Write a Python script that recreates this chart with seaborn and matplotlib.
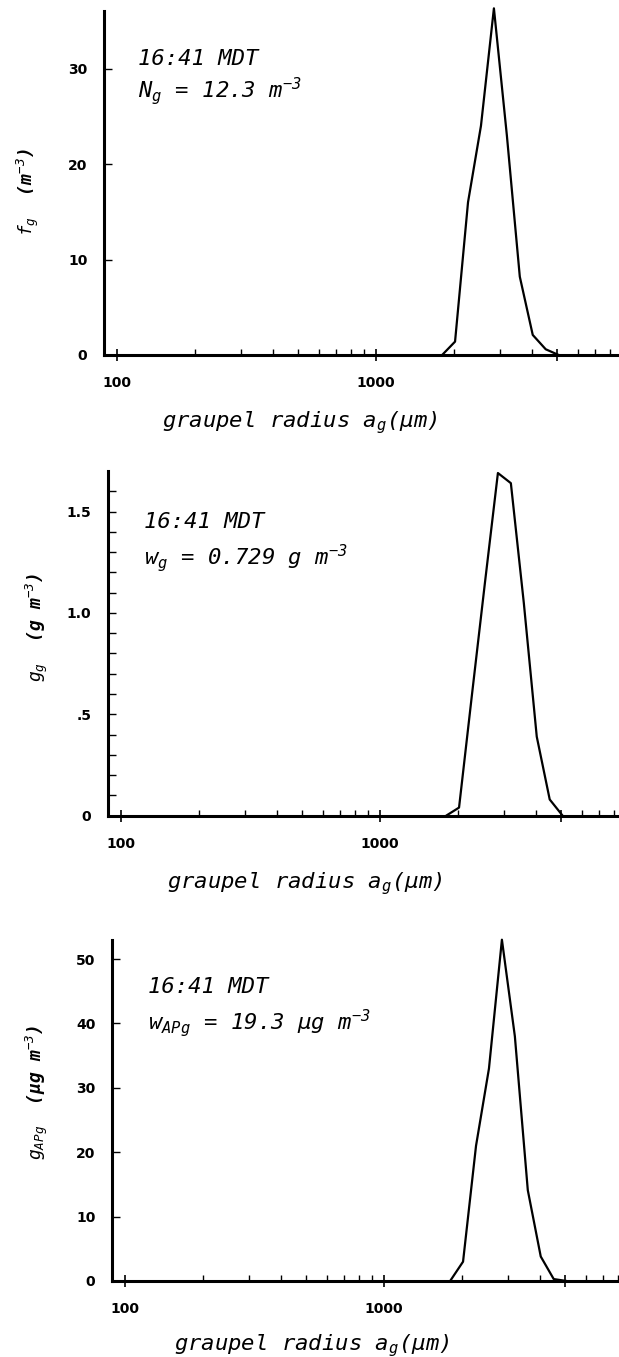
import matplotlib
matplotlib.use('Agg')
import numpy as np
import pandas as pd
import seaborn as sns
import matplotlib.pyplot as plt
from matplotlib.ticker import FixedLocator, NullFormatter, FixedFormatter

# graupel size bins (um) and the three spectra
radius = [1799, 2018, 2265, 2541, 2851, 3199, 3589, 4027, 4519, 5070]
f_g = [0, 1.4, 16.0, 24.0, 36.3, 23.0, 8.2, 2.1, 0.6, 0]
g_g = [0, 0.04, 0.60, 1.15, 1.69, 1.64, 1.05, 0.39, 0.08, 0]
g_apg = [0, 3.0, 21.0, 33.0, 53.0, 38.0, 14.1, 3.8, 0.3, 0]

time_label = '16:41 MDT'
notes = ['$N_g$ = 12.3 m$^{-3}$', '$w_g$ = 0.729 g m$^{-3}$',
         '$w_{APg}$ = 19.3 \u00b5g m$^{-3}$']
ylabels = ['$f_g$  (m$^{-3}$)', '$g_g$  (g m$^{-3}$)', '$g_{APg}$  (\u00b5g m$^{-3}$)']
xlabel = 'graupel radius a$_g$(\u00b5m)'

sns.set_style('ticks')
plt.rcParams['font.family'] = ['DejaVu Sans']
plt.rcParams['mathtext.fontset'] = 'custom'
plt.rcParams['mathtext.it'] = 'DejaVu Sans Mono:italic'
plt.rcParams['mathtext.rm'] = 'DejaVu Sans Mono:italic'
plt.rcParams['mathtext.default'] = 'it'
for key in ['text.color', 'axes.labelcolor', 'xtick.color', 'ytick.color',
            'axes.edgecolor']:
    plt.rcParams[key] = 'black'

W, H = 619, 1357
fig = plt.figure(figsize=(W / 100, H / 100), dpi=100)

# pixel geometry: (left spine x, axis y, top y)
panels = [
    dict(y=f_g, left=104, bottom=355, top=11.2, ylim=36,
         yt=[0, 10, 20, 30], ytl=['0', '10', '20', '30'], minor=None,
         ylab=(28, 192), txt=(138, 65, 98), xlab=(0.38, -54)),
    dict(y=g_g, left=108, bottom=815.7, top=471, ylim=1.7,
         yt=[0, 0.5, 1.0, 1.5], ytl=['0', '.5', '1.0', '1.5'],
         minor=list(np.arange(0.1, 1.65, 0.1)),
         ylab=(37, 627), txt=(144, 528, 565), xlab=(0.383, -54)),
    dict(y=g_apg, left=112, bottom=1281, top=939.7, ylim=53,
         yt=[0, 10, 20, 30, 40, 50], ytl=['0', '10', '20', '30', '40', '50'], minor=None,
         ylab=(37, 1092), txt=(148, 993, 1030), xlab=(0.388, -51)),
]

xmin, xmax = 89.0, 8670.0
minor_x = [200, 300, 400, 500, 600, 700, 800, 900,
           2000, 3000, 4000, 6000, 7000, 8000, 9000]
mono = dict(family='DejaVu Sans Mono', style='italic', fontsize=16)

for i, p in enumerate(panels):
    ax = fig.add_axes([p['left'] / W, (H - p['bottom']) / H, 515 / W,
                       (p['bottom'] - p['top']) / H])
    df = pd.DataFrame({'radius': radius, 'value': p['y']})
    sns.lineplot(data=df, x='radius', y='value', ax=ax, color='black',
                 linewidth=1.6, clip_on=False)
    ax.set_xscale('log')
    ax.set_xlim(xmin, xmax)
    ax.set_ylim(0, p['ylim'])
    for s in ['top', 'right']:
        ax.spines[s].set_visible(False)
    for s in ['left', 'bottom']:
        ax.spines[s].set_linewidth(2.2)

    ax.xaxis.set_major_locator(FixedLocator([100, 1000, 5000]))
    ax.xaxis.set_major_formatter(FixedFormatter(['100', '1000', '']))
    ax.xaxis.set_minor_locator(FixedLocator(minor_x))
    ax.xaxis.set_minor_formatter(NullFormatter())
    ax.tick_params(axis='x', which='major', direction='inout', length=8,
                   width=1.2, pad=11, labelsize=10)
    ax.tick_params(axis='x', which='minor', direction='in', length=4.5, width=1.0)

    ax.yaxis.set_major_locator(FixedLocator(p['yt']))
    ax.yaxis.set_major_formatter(FixedFormatter(p['ytl']))
    if p['minor'] is not None:
        ax.yaxis.set_minor_locator(FixedLocator(p['minor']))
    else:
        ax.yaxis.set_minor_locator(FixedLocator([]))
    ax.tick_params(axis='y', which='both', direction='in', length=6, width=1.0,
                   pad=12, labelsize=10)
    for lab in ax.get_xticklabels() + ax.get_yticklabels():
        lab.set_fontweight('bold')

    ax.set_xlabel(xlabel, **mono)
    ax.xaxis.set_label_coords(p['xlab'][0], p['xlab'][1] / (p['bottom'] - p['top']))
    ax.set_ylabel('')

    tx, ty1, ty2 = p['txt']
    fig.text(tx / W, 1 - ty1 / H, time_label, va='baseline', ha='left', **mono)
    fig.text(tx / W, 1 - ty2 / H, notes[i], va='baseline', ha='left', **mono)
    lx, ly = p['ylab']
    fig.text(lx / W, 1 - ly / H, ylabels[i], rotation=90, va='center', ha='center',
             family='DejaVu Sans Mono', style='italic', fontsize=13, fontweight='bold')

fig.savefig('out.png', dpi=100)
